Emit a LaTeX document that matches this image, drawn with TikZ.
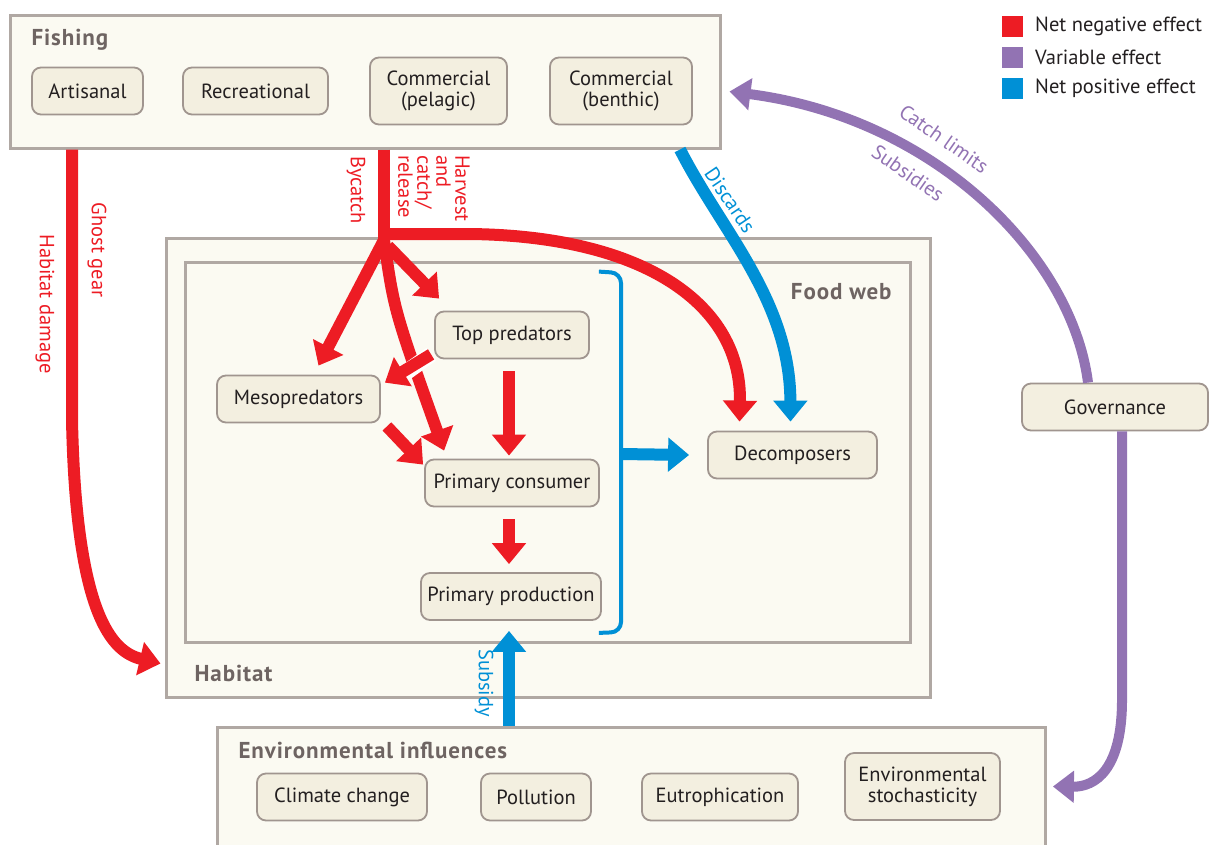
\documentclass[tikz,border=0pt]{standalone}
\usepackage{fontspec}
\setmainfont{PT Sans}
\newfontfamily\titlefont[LetterSpace=4.0]{PT Sans}
\usetikzlibrary{arrows.meta}
\definecolor{negred}{HTML}{ED1C24}
\definecolor{varpurple}{HTML}{9273B3}
\definecolor{posblue}{HTML}{0090D6}
\definecolor{boxfill}{HTML}{F3EFE0}
\definecolor{boxline}{HTML}{A0958F}
\definecolor{titlegrey}{HTML}{6E6462}
\definecolor{panelfill}{HTML}{FBFAF2}
\definecolor{panelline}{HTML}{B0A8A3}
\definecolor{ink}{HTML}{231F20}

\begin{document}
\begin{tikzpicture}[x=1pt,y=-1pt,
  unit/.style={draw=boxline,line width=1.8pt,fill=boxfill,rounded corners=9pt,align=center,minimum height=47pt,inner sep=0pt,text=ink,font=\fontsize{20.5}{21}\selectfont},
  panel/.style={draw=panelline,line width=3pt,fill=panelfill,inner sep=0pt},
  title/.style={anchor=west,text=titlegrey,font=\titlefont\fontsize{23}{24}\selectfont\bfseries},
  lbl/.style={font=\fontsize{20.5}{19}\selectfont,inner sep=0pt},
  negarrow/.style={draw=negred,line width=12pt,-{Triangle[length=21pt,width=33pt]}},
  posarrow/.style={draw=posblue,line width=12pt,-{Triangle[length=21pt,width=33pt]}},
  vararrow/.style={draw=varpurple,line width=10pt,-{Triangle[length=21pt,width=31pt]}}]
\useasboundingbox (0,0) rectangle (1209,844);

\node[panel,minimum width=764pt,minimum height=459pt] (habitat) at (548,467.5) {};
\node[panel,minimum width=725pt,minimum height=380pt] (foodweb) at (547.5,452) {};
\node[panel,minimum width=710pt,minimum height=133pt] (fishing) at (365,81.5) {};
\node[panel,minimum width=828pt,minimum height=150pt] (environment) at (631,802) {};

\node[title] (fishingtitle) at (28,40) {Fishing};
\node[title] (habitattitle) at (191,673) {Habitat};
\node[title,anchor=east] (foodwebtitle) at (895,292) {Food web};
\node[title] (envtitle) at (235,750) {Environmental influences};

\node[unit,minimum width=111pt] (artisanal) at (87.5,91) {Artisanal};
\node[unit,minimum width=145pt] (recreational) at (255.5,91) {Recreational};
\node[unit,minimum width=137pt,minimum height=67pt] (pelagic) at (438.5,91) {Commercial\\(pelagic)};
\node[unit,minimum width=142pt,minimum height=67pt] (benthic) at (621,91) {Commercial\\(benthic)};

\node[unit,minimum width=154pt] (top) at (512,335) {Top predators};
\node[unit,minimum width=163pt] (meso) at (298.5,399) {Mesopredators};
\node[unit,minimum width=174pt] (prim) at (512,483) {Primary consumer};
\node[unit,minimum width=180pt] (prod) at (511,596.5) {Primary production};
\node[unit,minimum width=169pt] (decomp) at (792.5,455) {Decomposers};
\node[unit,minimum width=186pt] (governance) at (1115,407) {Governance};

\node[unit,minimum width=170pt] (climate) at (342,797) {Climate change};
\node[unit,minimum width=110pt] (pollution) at (536,797) {Pollution};
\node[unit,minimum width=156pt] (eutro) at (720,797) {Eutrophication};
\node[unit,minimum width=155pt,minimum height=67pt] (stoch) at (922.5,786.5) {Environmental\\stochasticity};

\node[fill=negred,minimum size=21pt,inner sep=0pt] (keyneg) at (1012,26) {};
\node[fill=varpurple,minimum size=21pt,inner sep=0pt] (keyvar) at (1012,57) {};
\node[fill=posblue,minimum size=21pt,inner sep=0pt] (keypos) at (1012,88) {};
\node[lbl,anchor=west,text=ink] (keyneglbl) at (1035,26) {Net negative effect};
\node[lbl,anchor=west,text=ink] (keyvarlbl) at (1035,57) {Variable effect};
\node[lbl,anchor=west,text=ink] (keyposlbl) at (1035,88) {Net positive effect};

\coordinate (fork) at (384,240);
\draw[negarrow] (fishing.south -| 72,0) -- (72,420) .. controls (76,615) and (112,652) .. ([xshift=-4pt,yshift=35pt]habitat.south west);
\draw[negred,line width=12pt] (fishing.south -| fork) -- (384,255);
\draw[negarrow] (384,234) -- (470,234) .. controls (645,236) and (742,305) .. ([xshift=-53pt,yshift=9pt]decomp.north);
\draw[negarrow] (fork) -- ([xshift=20pt,yshift=9pt]meso.north);
\draw[negarrow] (388,246) -- ([xshift=5pt,yshift=12pt]top.north west);
\draw[negarrow] (fork) .. controls (394,310) .. ([xshift=20pt,yshift=8pt]prim.north west);
\draw[white,line width=16pt] ([xshift=-3pt,yshift=5pt]top.south west) -- ([xshift=-38pt,yshift=-20pt]top.south west);
\draw[negarrow] ([xshift=-3pt,yshift=5pt]top.south west) -- ([xshift=4pt,yshift=-8pt]meso.north east);
\draw[negarrow] ([xshift=6pt,yshift=-3pt]meso.south east) -- ([xshift=-1pt,yshift=-6pt]prim.north west);
\draw[negarrow] ([xshift=-3pt,yshift=-12pt]top.south) -- ([xshift=-3pt,yshift=3pt]prim.north);
\draw[negarrow] ([xshift=-3pt,yshift=-12pt]prim.south) -- ([xshift=-2pt,yshift=8pt]prod.north);

\draw[posblue,line width=4pt,rounded corners=10pt] ([xshift=9pt,yshift=39pt]top.north east) -- (621,273) -- (621,632) -- ([xshift=-3pt,yshift=-12pt]prod.south east);
\draw[posarrow] (621,454) -- ([xshift=-18pt]decomp.west);
\draw[posarrow] (fishing.south -| 680,0) .. controls (722,232) and (790,300) .. ([xshift=-2pt,yshift=9pt]decomp.north);
\draw[posarrow] (environment.north -| 509,0) -- ([xshift=-2pt,yshift=-10pt]prod.south);

\draw[vararrow] ([xshift=-27pt]governance.north) .. controls (1072,256) and (935,118) .. ([xshift=8pt,yshift=-10pt]fishing.east);
\draw[vararrow] ([xshift=7pt]governance.south) -- (1122,700) .. controls (1122,770) and (1095,787) .. ([xshift=52pt]stoch.east);

\node[lbl,text=negred,rotate=-90] (ghostlbl) at (97,250) {Ghost gear};
\node[lbl,text=negred,rotate=-90] (damagelbl) at (45,304) {Habitat damage};
\node[lbl,text=negred,rotate=-90] (bycatchlbl) at (356,190) {Bycatch};
\node[lbl,text=negred,rotate=-90,anchor=north west,align=left] (harvestlbl) at (470,155) {Harvest\\and\\catch/\\release};
\node[lbl,text=posblue,rotate=-56] (discardslbl) at (730,200) {Discards};
\node[lbl,text=posblue,rotate=-90] (subsidylbl) at (484,683) {Subsidy};
\node[lbl,text=varpurple,rotate=-35] (catchlbl) at (944,139) {Catch limits};
\node[lbl,text=varpurple,rotate=-35] (subsidieslbl) at (908,173) {Subsidies};
\end{tikzpicture}
\end{document}
